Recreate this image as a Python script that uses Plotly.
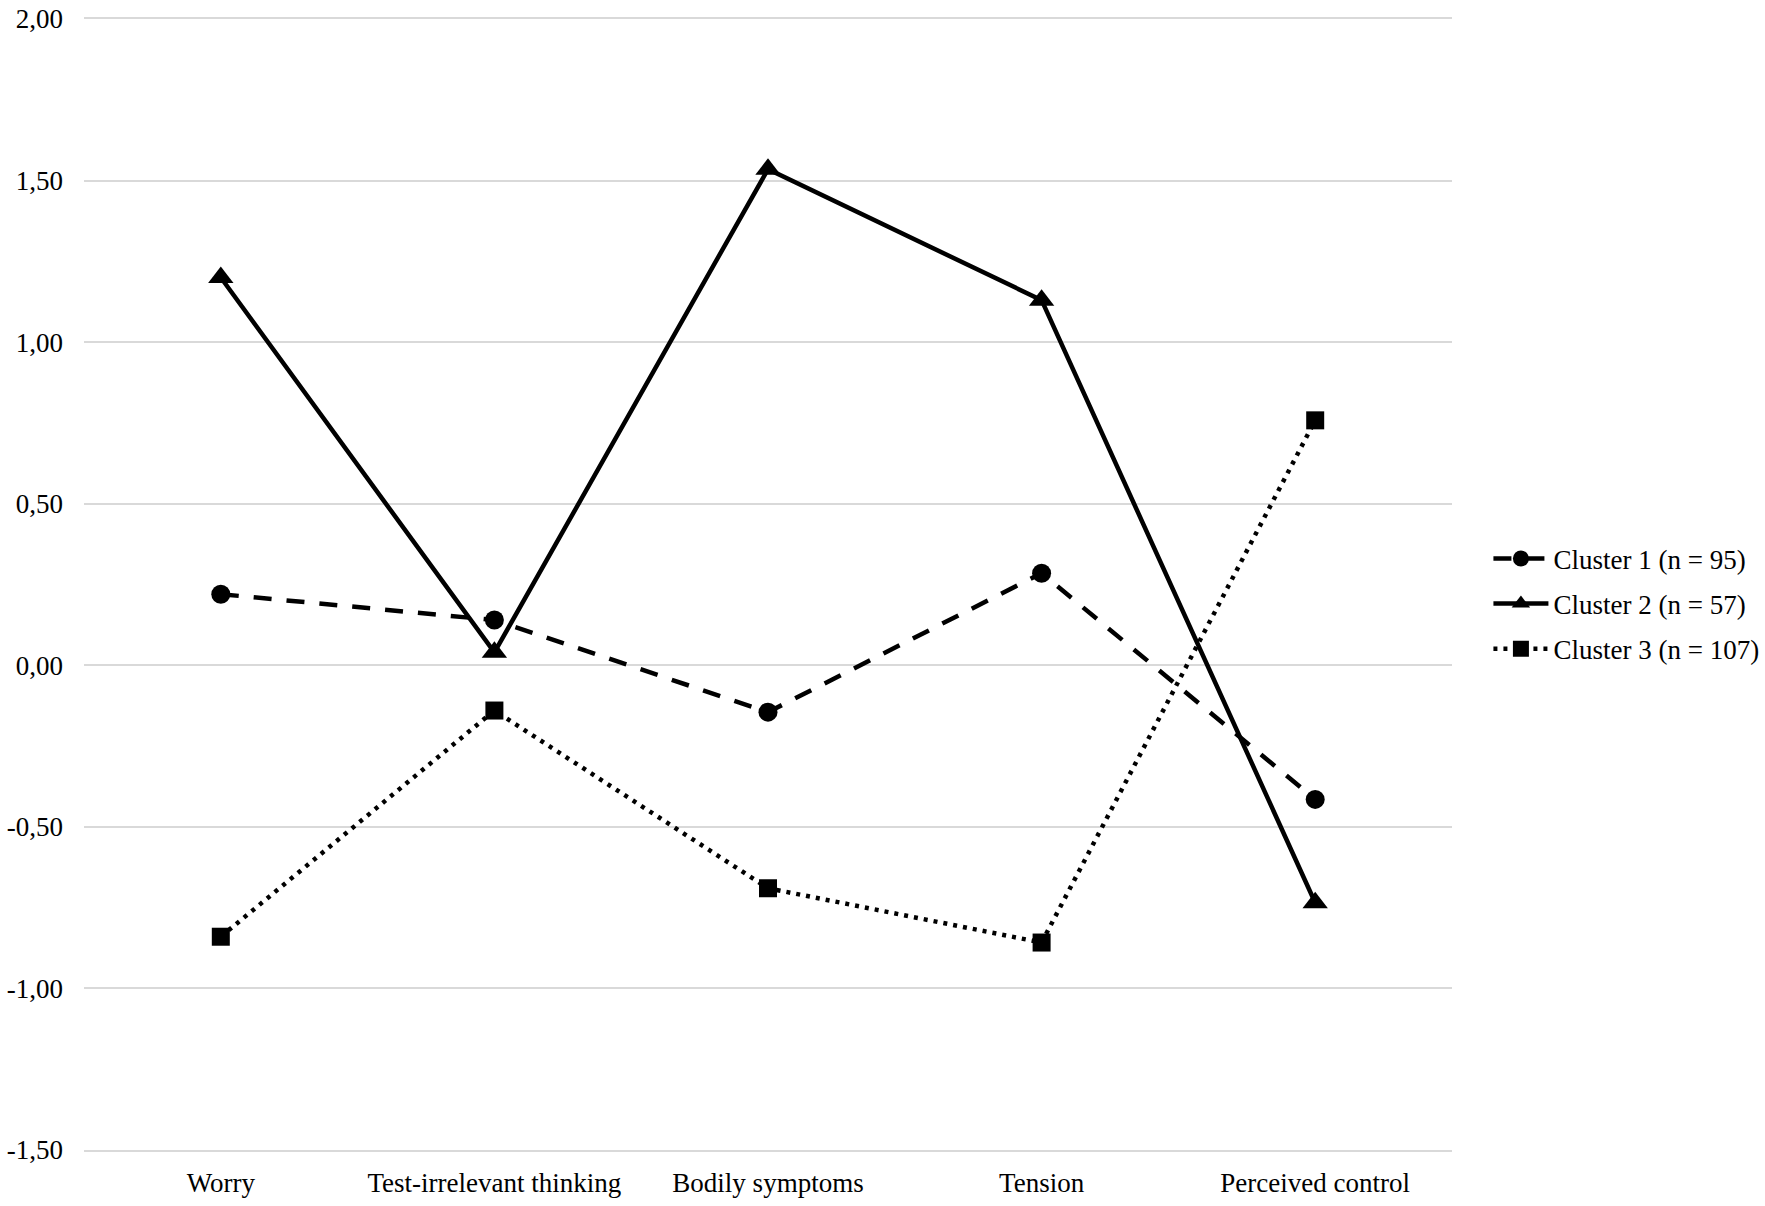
import plotly.graph_objects as go

categories = ["Worry", "Test-irrelevant thinking", "Bodily symptoms", "Tension", "Perceived control"]
cluster1 = [0.22, 0.14, -0.145, 0.285, -0.415]
cluster2 = [1.20, 0.04, 1.535, 1.13, -0.735]
cluster3 = [-0.84, -0.14, -0.69, -0.858, 0.758]
names = ["Cluster 1 (n = 95)", "Cluster 2 (n = 57)", "Cluster 3 (n = 107)"]
y_ticks = [-1.5, -1.0, -0.5, 0.0, 0.5, 1.0, 1.5, 2.0]
y_tick_labels = ["-1,50", "-1,00", "-0,50", "0,00", "0,50", "1,00", "1,50", "2,00"]

FONT = "Liberation Serif"
FS = 27

fig = go.Figure()
fig.add_trace(go.Scatter(
    x=categories, y=cluster1, name=names[0], mode="lines+markers", legendgroup="a",
    line=dict(color="black", width=4.5, dash="18px,15px"),
    marker=dict(symbol="circle", size=19, color="black"),
))
fig.add_trace(go.Scatter(
    x=categories, y=cluster2, name=names[1], mode="lines+markers", legendgroup="b",
    line=dict(color="black", width=4.5, dash="solid"),
    marker=dict(symbol="triangle-up", size=22, color="black"),
))
fig.add_trace(go.Scatter(
    x=categories, y=cluster3, name=names[2], mode="lines+markers", legendgroup="c",
    line=dict(color="black", width=4.5, dash="4px,6px"),
    marker=dict(symbol="square", size=18, color="black"),
))

fig.update_layout(
    width=1765, height=1206,
    margin=dict(l=84, r=313, t=19, b=56, autoexpand=False),
    paper_bgcolor="white", plot_bgcolor="white",
    font=dict(family=FONT, size=FS, color="black"),
    showlegend=True,
    legend=dict(
        xref="container", yref="container",
        x=0.8433, xanchor="left", y=0.4992, yanchor="middle",
        font=dict(family=FONT, size=FS, color="black"),
        bgcolor="rgba(0,0,0,0)", itemwidth=55, tracegroupgap=7,
    ),
    xaxis=dict(
        type="category", categoryorder="array", categoryarray=categories,
        range=[-0.5, 4.5], showgrid=False, zeroline=False,
        showline=True, linecolor="#d9d9d9", linewidth=2, mirror=True,
        ticks="", ticklabelstandoff=8, automargin=False,
        tickfont=dict(family=FONT, size=FS, color="black"),
    ),
    yaxis=dict(
        range=[-1.5, 2.0], tickvals=y_ticks, ticktext=y_tick_labels,
        showgrid=True, gridcolor="#d9d9d9", gridwidth=2,
        zeroline=False, showline=False, ticks="", ticklabelstandoff=20,
        automargin=False,
        tickfont=dict(family=FONT, size=FS, color="black"),
    ),
)

fig.write_html(
    "out.html",
    config={"displayModeBar": False},
    post_script="document.body.style.margin='0';document.body.style.overflow='hidden';",
)
